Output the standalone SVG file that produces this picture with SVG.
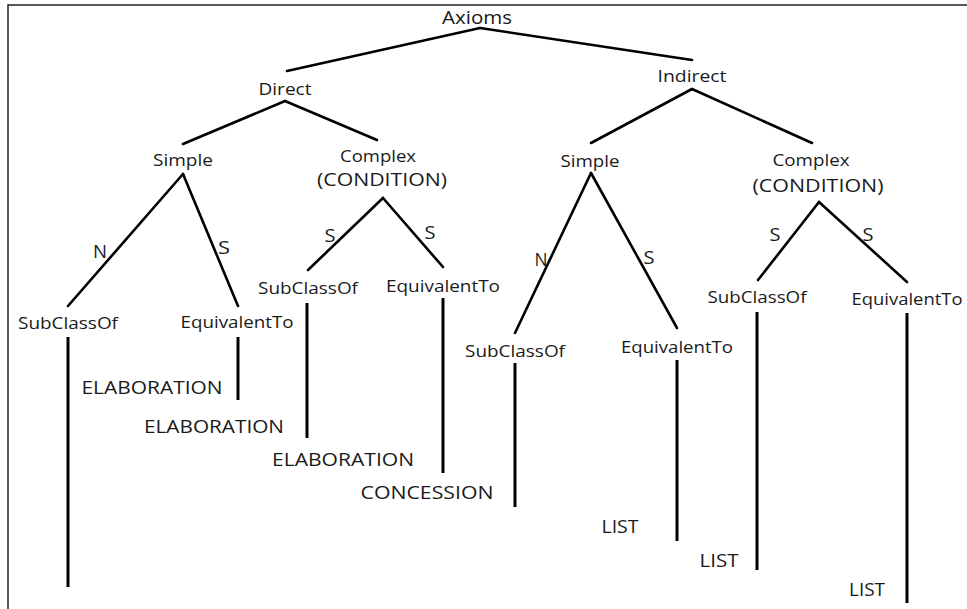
<svg xmlns="http://www.w3.org/2000/svg" width="967" height="609" viewBox="0 0 967 609">
<style>
  text { font-family: "Open Sans", "Liberation Sans", sans-serif; fill: #1a1a1a; text-anchor: middle; }
  .s { font-size: 16px; }
  .b { font-size: 18px; }
  .e { stroke: #000; stroke-width: 2.6; stroke-linecap: round; fill: none; }
  .v { stroke: #000; stroke-width: 3; fill: none; }
</style>
<rect x="8" y="5" width="975" height="630" fill="#fff" stroke="#222" stroke-width="1.5"/>
<g id="connectors">
  <line class="e" x1="480" y1="28" x2="287" y2="71"/>
  <line class="e" x1="480" y1="28" x2="692" y2="60"/>
  <line class="e" x1="285" y1="101" x2="183" y2="144"/>
  <line class="e" x1="285" y1="101" x2="377" y2="140"/>
  <line class="e" x1="692" y1="89" x2="591" y2="143"/>
  <line class="e" x1="692" y1="89" x2="812" y2="143"/>
  <line class="e" x1="183" y1="174" x2="68" y2="306"/>
  <line class="e" x1="183" y1="174" x2="238" y2="306"/>
  <line class="e" x1="383" y1="198" x2="308" y2="270"/>
  <line class="e" x1="383" y1="198" x2="443" y2="267"/>
  <line class="e" x1="591" y1="173" x2="515" y2="333"/>
  <line class="e" x1="591" y1="173" x2="677" y2="328"/>
  <line class="e" x1="819" y1="202" x2="758" y2="280"/>
  <line class="e" x1="819" y1="202" x2="907" y2="282"/>
  <line class="v" x1="68" y1="337" x2="68" y2="587"/>
  <line class="v" x1="238" y1="337" x2="238" y2="400"/>
  <line class="v" x1="307" y1="303" x2="307" y2="438"/>
  <line class="v" x1="443" y1="298" x2="443" y2="473"/>
  <line class="v" x1="515" y1="363" x2="515" y2="507"/>
  <line class="v" x1="677" y1="360" x2="677" y2="541"/>
  <line class="v" x1="757" y1="312" x2="757" y2="570"/>
  <line class="v" x1="907" y1="313" x2="907" y2="603"/>
</g>
<g id="edge-labels">
  <text class="b" x="100" y="258" textLength="14" lengthAdjust="spacingAndGlyphs">N</text>
  <text class="b" x="224" y="254" textLength="12" lengthAdjust="spacingAndGlyphs">S</text>
  <text class="b" x="330" y="242" textLength="11" lengthAdjust="spacingAndGlyphs">S</text>
  <text class="b" x="430" y="239" textLength="11" lengthAdjust="spacingAndGlyphs">S</text>
  <text class="b" x="541" y="266" textLength="13" lengthAdjust="spacingAndGlyphs">N</text>
  <text class="b" x="649" y="264" textLength="11" lengthAdjust="spacingAndGlyphs">S</text>
  <text class="b" x="775" y="241" textLength="11" lengthAdjust="spacingAndGlyphs">S</text>
  <text class="b" x="868" y="241" textLength="11" lengthAdjust="spacingAndGlyphs">S</text>
</g>
<g id="axioms"><text class="b" x="477" y="24" textLength="70" lengthAdjust="spacingAndGlyphs">Axioms</text></g>
<g id="direct"><text class="s" x="285" y="95" textLength="53" lengthAdjust="spacingAndGlyphs">Direct</text></g>
<g id="indirect"><text class="s" x="692" y="82" textLength="69" lengthAdjust="spacingAndGlyphs">Indirect</text></g>
<g id="simple-direct"><text class="s" x="183" y="166" textLength="60" lengthAdjust="spacingAndGlyphs">Simple</text></g>
<g id="complex-direct">
  <text class="s" x="378" y="162" textLength="76" lengthAdjust="spacingAndGlyphs">Complex</text>
  <text class="b" x="382" y="186" textLength="130" lengthAdjust="spacingAndGlyphs">(CONDITION)</text>
</g>
<g id="simple-indirect"><text class="s" x="590" y="167" textLength="59" lengthAdjust="spacingAndGlyphs">Simple</text></g>
<g id="complex-indirect">
  <text class="s" x="811" y="166" textLength="77" lengthAdjust="spacingAndGlyphs">Complex</text>
  <text class="b" x="818" y="192" textLength="131" lengthAdjust="spacingAndGlyphs">(CONDITION)</text>
</g>
<g id="subclassof-ds"><text class="s" x="68" y="329" textLength="100" lengthAdjust="spacingAndGlyphs">SubClassOf</text></g>
<g id="equivalentto-ds"><text class="s" x="237" y="328" textLength="113" lengthAdjust="spacingAndGlyphs">EquivalentTo</text></g>
<g id="elaboration-1"><text class="b" x="152" y="394" textLength="141" lengthAdjust="spacingAndGlyphs">ELABORATION</text></g>
<g id="elaboration-2"><text class="b" x="214" y="433" textLength="140" lengthAdjust="spacingAndGlyphs">ELABORATION</text></g>
<g id="subclassof-dc"><text class="s" x="308" y="294" textLength="100" lengthAdjust="spacingAndGlyphs">SubClassOf</text></g>
<g id="equivalentto-dc"><text class="s" x="443" y="292" textLength="114" lengthAdjust="spacingAndGlyphs">EquivalentTo</text></g>
<g id="elaboration-3"><text class="b" x="343" y="466" textLength="142" lengthAdjust="spacingAndGlyphs">ELABORATION</text></g>
<g id="concession"><text class="b" x="427" y="499" textLength="133" lengthAdjust="spacingAndGlyphs">CONCESSION</text></g>
<g id="subclassof-is"><text class="s" x="515" y="357" textLength="100" lengthAdjust="spacingAndGlyphs">SubClassOf</text></g>
<g id="equivalentto-is"><text class="s" x="677" y="353" textLength="112" lengthAdjust="spacingAndGlyphs">EquivalentTo</text></g>
<g id="list-1"><text class="b" x="620" y="533" textLength="37" lengthAdjust="spacingAndGlyphs">LIST</text></g>
<g id="subclassof-ic"><text class="s" x="757" y="303" textLength="99" lengthAdjust="spacingAndGlyphs">SubClassOf</text></g>
<g id="equivalentto-ic"><text class="s" x="907" y="305" textLength="111" lengthAdjust="spacingAndGlyphs">EquivalentTo</text></g>
<g id="list-2"><text class="b" x="719" y="567" textLength="39" lengthAdjust="spacingAndGlyphs">LIST</text></g>
<g id="list-3"><text class="b" x="867" y="596" textLength="36" lengthAdjust="spacingAndGlyphs">LIST</text></g>
</svg>
